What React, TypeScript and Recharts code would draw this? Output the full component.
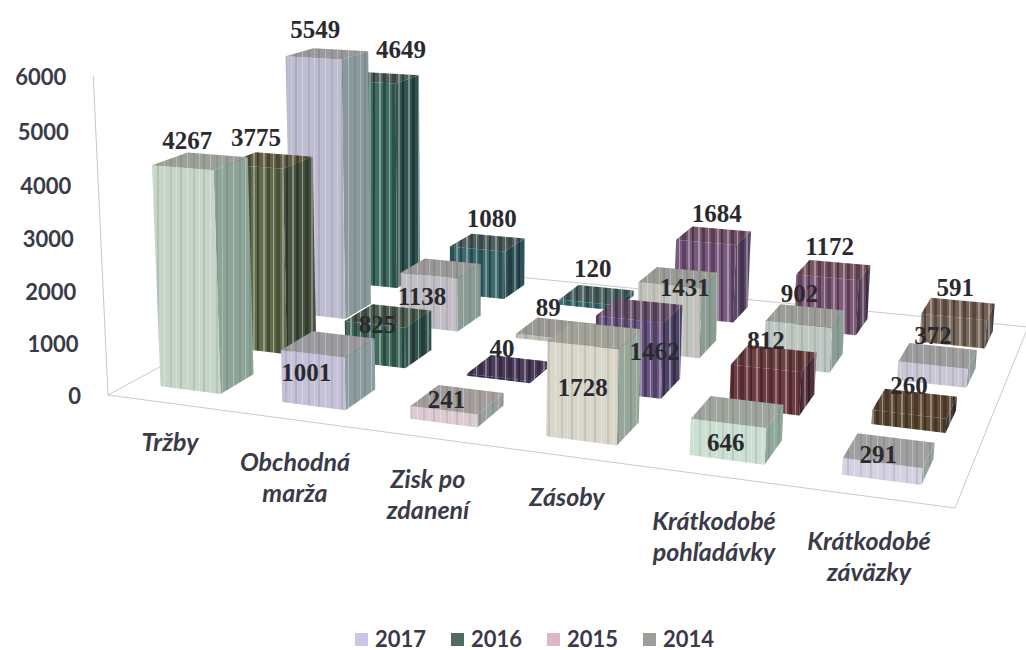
import { Bar, BarChart, Legend, XAxis, YAxis } from "recharts";

const categories = [
  "Tržby",
  "Obchodná marža",
  "Zisk po zdanení",
  "Zásoby",
  "Krátkodobé pohľadávky",
  "Krátkodobé záväzky",
];
const values2017 = [4267, 1001, 241, 1728, 646, 291];
const values2016 = [3775, 825, 40, 1462, 812, 260];
const values2015 = [5549, 1138, 89, 1431, 902, 372];
const values2014 = [4649, 1080, 120, 1684, 1172, 591];
const yTicks = [0, 1000, 2000, 3000, 4000, 5000, 6000];

const data = categories.map((name, i) => ({
  name,
  y2017: values2017[i],
  y2016: values2016[i],
  y2015: values2015[i],
  y2014: values2014[i],
}));

// scanned picture: every bar has its own tint
const faceColors = [
  ["#c5d5c8", "#c4c1d8", "#dccbd2", "#d9d7ca", "#cbdfd2", "#d2d2e2"],
  ["#5f6b4a", "#3f6a5c", "#3a3568", "#6a5585", "#6e3a44", "#5c4a33"],
  ["#bdbcd1", "#c1bfc5", "#bdbcb5", "#c1c3bc", "#bfc7c3", "#cac7d4"],
  ["#3e6b62", "#3d6a6e", "#3e7074", "#7a5a80", "#7f5a78", "#7a6a5c"],
];
const legendItems = [
  { year: "2017", color: "#c9c6e6" },
  { year: "2016", color: "#4f6a60" },
  { year: "2015", color: "#dcb8c2" },
  { year: "2014", color: "#9a9f98" },
];

const W = 1026;
const H = 650;
const M = { top: 77, right: 86, bottom: 225, left: 40 };
const AXIS_W = 60;
const PLOT_LEFT = M.left + AXIS_W;
const PLOT_BOTTOM = 395;
const plotW = W - PLOT_LEFT - M.right;
const SIZE = 70;

// floor corners in the picture: front-left, front-right, back-right, back-left
const A = [108, 395];
const B = [955, 508];
const C = [1028, 327];
const D = [355, 261];
const V = [450, 7800];
const LEAN = -1 / 7700;

function makeHomography() {
  const dx1 = B[0] - C[0];
  const dx2 = D[0] - C[0];
  const sx = A[0] - B[0] + C[0] - D[0];
  const dy1 = B[1] - C[1];
  const dy2 = D[1] - C[1];
  const sy = A[1] - B[1] + C[1] - D[1];
  const det = dx1 * dy2 - dx2 * dy1;
  const g = (sx * dy2 - dx2 * sy) / det;
  const h = (dx1 * sy - sx * dy1) / det;
  return {
    a: B[0] - A[0] + g * B[0],
    b: D[0] - A[0] + h * D[0],
    d: B[1] - A[1] + g * B[1],
    e: D[1] - A[1] + h * D[1],
    g,
    h,
  };
}
const HM = makeHomography();

// u along categories, v into the depth, z height in px
function project(u: number, v: number, z: number) {
  const k = z * LEAN;
  const X = HM.a * u + HM.b * v + A[0] + k * V[0];
  const Y = HM.d * u + HM.e * v + A[1] + k * V[1];
  const w = HM.g * u + HM.h * v + 1 + k;
  return [X / w, Y / w];
}

const pts = (list: number[][]) => list.map((p) => p.join(",")).join(" ");

function mix(c1: string, c2: string, t: number) {
  const n1 = parseInt(c1.slice(1), 16);
  const n2 = parseInt(c2.slice(1), 16);
  const ch = (s: number) =>
    Math.round(((n1 >> s) & 255) * (1 - t) + ((n2 >> s) & 255) * t);
  return `rgb(${ch(16)},${ch(8)},${ch(0)})`;
}

function boxCorners(x: number, width: number, height: number, row: number) {
  const u0 = (x - PLOT_LEFT) / plotW;
  const u1 = (x + width - PLOT_LEFT) / plotW;
  const v0 = (row + 0.3) / 4;
  const v1 = (row + 0.78) / 4;
  return { u0, u1, v0, v1, z: height };
}

function makeBox(row: number) {
  return function BoxShape(props: any) {
    const { x, width, height, index } = props;
    const { u0, u1, v0, v1, z } = boxCorners(x, width, height, row);
    const base = faceColors[row][index];
    const dark = row % 2 === 1;
    const side = dark ? mix(base, "#10182a", 0.3) : mix(base, "#5f7d70", 0.55);
    const top = dark ? mix(base, "#6a4a40", 0.35) : mix(base, "#85857f", 0.65);
    const front = [project(u0, v0, 0), project(u1, v0, 0), project(u1, v0, z), project(u0, v0, z)];
    const right = [project(u1, v0, 0), project(u1, v1, 0), project(u1, v1, z), project(u1, v0, z)];
    const roof = [project(u0, v0, z), project(u1, v0, z), project(u1, v1, z), project(u0, v1, z)];
    const stripes = dark ? "url(#stripesDark)" : "url(#stripesLight)";
    return (
      <g>
        {[
          { p: right, c: side },
          { p: front, c: base },
          { p: roof, c: top },
        ].map((f, i) => (
          <g key={i}>
            <polygon points={pts(f.p)} fill={f.c} />
            <polygon points={pts(f.p)} fill={stripes} />
          </g>
        ))}
      </g>
    );
  };
}

// label shift from the middle of the box top, by row and category
const labelShift = [
  [[-13, -21], [-22, 28], [-11, 0], [-12, 52], [-12, 31], [-11, 4]],
  [[-13, -23], [-11, 9], [-8, -19], [15, 41], [-8, -18], [-6, -18]],
  [[-12, -24], [-19, 28], [-8, -21], [6, 10], [-6, -22], [-5, -20]],
  [[20, -28], [4, -24], [-4, -26], [3, -22], [-4, -23], [-3, -21]],
];

function makeLabel(row: number, values: number[]) {
  return function LabelShape(props: any) {
    const { x, width, height, index } = props;
    const { u0, u1, v0, v1, z } = boxCorners(x, width, height, row);
    const p = project((u0 + u1) / 2, (v0 + v1) / 2, z);
    const s = labelShift[row][index];
    return (
      <text
        x={p[0] + s[0]}
        y={p[1] + s[1]}
        textAnchor="middle"
        dominantBaseline="central"
        fontFamily="'Liberation Serif', serif"
        fontWeight="bold"
        fontSize={25}
        fill="#2a2a2e"
      >
        {values[index]}
      </text>
    );
  };
}

const catLines = [["Tržby"], ["Obchodná", "marža"], ["Zisk po", "zdanení"], ["Zásoby"], ["Krátkodobé", "pohľadávky"], ["Krátkodobé", "záväzky"]];
const catX = [0, -15, -22, -23, -16, -1];
const catY = [443, 463, 480, 498, 522, 542];

function CategoryTick(props: any) {
  const { x, index } = props;
  return (
    <text textAnchor="middle" fontFamily="Lato" fontWeight="bold" fontStyle="italic" fontSize={25} fill="#3a3a48">
      {catLines[index].map((line, i) => (
        <tspan key={line} x={x + catX[index]} y={catY[index] + 8 + i * 31}>
          {line}
        </tspan>
      ))}
    </text>
  );
}

// value labels follow the leaning wall edge
function ValueTick(props: any) {
  const { y, payload } = props;
  const p = project(0, 0, PLOT_BOTTOM - y);
  return (
    <text
      x={p[0] - 27}
      y={p[1]}
      textAnchor="end"
      dominantBaseline="central"
      fontFamily="Lato"
      fontWeight="bold"
      fontSize={22}
      fill="#3a3a48"
    >
      {payload.value}
    </text>
  );
}

function LegendRow() {
  return (
    <div style={{ display: "flex", fontFamily: "Lato", fontWeight: "bold", fontSize: 22, lineHeight: "22px", color: "#3a3a48" }}>
      {legendItems.map((it) => (
        <div key={it.year} style={{ display: "flex", alignItems: "center", width: 96, whiteSpace: "nowrap" }}>
          <span style={{ flex: "none", width: 13, height: 13, background: it.color, marginRight: 7 }} />
          <span style={{ flex: "none" }}>{it.year}</span>
        </div>
      ))}
    </div>
  );
}

const series = [
  { key: "y2014", row: 3, values: values2014 },
  { key: "y2015", row: 2, values: values2015 },
  { key: "y2016", row: 1, values: values2016 },
  { key: "y2017", row: 0, values: values2017 },
];

export default function App() {
  return (
    <BarChart
      width={W}
      height={H}
      data={data}
      margin={M}
      barSize={SIZE}
      barGap={-SIZE}
      style={{ position: "absolute", left: 0, top: 0, background: "#fff" }}
    >
      <defs>
        <pattern id="stripesDark" patternUnits="userSpaceOnUse" width="29" height="10">
          <rect x="2" width="2" height="10" fill="#ffffff" opacity="0.35" />
          <rect x="6" width="3" height="10" fill="#000000" opacity="0.3" />
          <rect x="12" width="1" height="10" fill="#ffffff" opacity="0.4" />
          <rect x="15" width="4" height="10" fill="#000000" opacity="0.25" />
          <rect x="21" width="2" height="10" fill="#ffffff" opacity="0.3" />
          <rect x="25" width="2" height="10" fill="#000000" opacity="0.35" />
        </pattern>
        <pattern id="stripesLight" patternUnits="userSpaceOnUse" width="23" height="10">
          <rect x="3" width="1" height="10" fill="#ffffff" opacity="0.3" />
          <rect x="9" width="2" height="10" fill="#000000" opacity="0.08" />
          <rect x="15" width="1" height="10" fill="#ffffff" opacity="0.25" />
          <rect x="19" width="2" height="10" fill="#000000" opacity="0.09" />
        </pattern>
      </defs>
      <polygon points={pts([A, B, C, D])} fill="none" stroke="#c9cad2" strokeWidth={1} />
      <line
        x1={A[0]}
        y1={A[1]}
        x2={project(0, 0, 318)[0]}
        y2={project(0, 0, 318)[1]}
        stroke="#c4c8c6"
        strokeWidth={1}
      />
      <XAxis dataKey="name" axisLine={false} tickLine={false} interval={0} tick={<CategoryTick />} />
      <YAxis
        width={AXIS_W}
        domain={[0, 6000]}
        ticks={yTicks}
        axisLine={false}
        tickLine={false}
        interval={0}
        tick={<ValueTick />}
      />
      <Legend
        layout="horizontal"
        verticalAlign="middle"
        content={<LegendRow />}
        wrapperStyle={{ left: 355, top: 628, width: 400, height: 22 }}
      />
      {series.map((s) => (
        <Bar key={s.key} dataKey={s.key} fill={legendItems[s.row].color} shape={makeBox(s.row)} isAnimationActive={false} />
      ))}
      {series.map((s) => (
        <Bar key={s.key + "t"} dataKey={s.key} legendType="none" fill="none" shape={makeLabel(s.row, s.values)} isAnimationActive={false} />
      ))}
    </BarChart>
  );
}
